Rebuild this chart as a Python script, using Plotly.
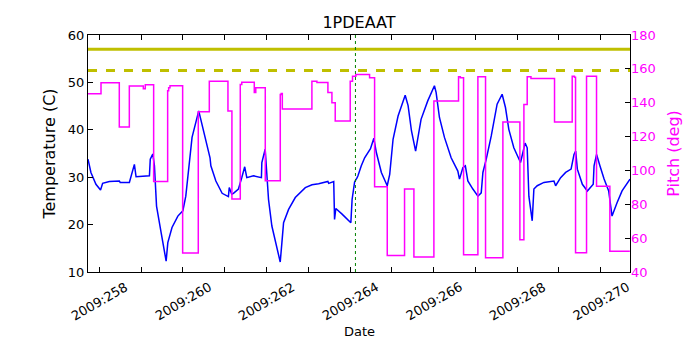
import plotly.graph_objects as go

# Temperature 1PDEAAT (day of year 2009, deg C)
temp_days = [257.73, 257.80, 257.92, 258.03, 258.08, 258.24, 258.48, 258.50, 258.72, 258.84,
             258.88, 259.20, 259.22, 259.28, 259.32, 259.37, 259.48, 259.60, 259.64, 259.74,
             259.88, 260.00, 260.07, 260.22, 260.38, 260.43, 260.54, 260.65, 260.67, 260.79,
             260.94, 261.09, 261.11, 261.17, 261.21, 261.33, 261.41, 261.48, 261.53, 261.69,
             261.88, 261.89, 261.97, 262.01, 262.05, 262.13, 262.25, 262.33, 262.37, 262.41,
             262.53, 262.69, 262.93, 263.09, 263.25, 263.47, 263.49, 263.61, 263.63, 263.66,
             263.81, 263.99, 264.02, 264.05, 264.11, 264.17, 264.19, 264.27, 264.35, 264.49,
             264.57, 264.63, 264.75, 264.89, 264.95, 265.03, 265.15, 265.32, 265.39, 265.47,
             265.57, 265.70, 265.86, 266.02, 266.06, 266.14, 266.26, 266.42, 266.58, 266.62,
             266.70, 266.76, 266.82, 266.94, 267.06, 267.14, 267.18, 267.26, 267.38, 267.52,
             267.64, 267.72, 267.80, 267.92, 268.08, 268.19, 268.24, 268.28, 268.36, 268.40,
             268.48, 268.64, 268.88, 268.92, 269.04, 269.16, 269.29, 269.36, 269.40, 269.44,
             269.56, 269.68, 269.82, 269.84, 269.90, 269.98, 270.08, 270.19, 270.27, 270.39,
             270.51, 270.70]
temp_vals = [33.8, 31.0, 28.5, 27.3, 28.7, 29.1, 29.2, 28.9, 28.9, 32.7,
             30.1, 30.3, 33.8, 34.9, 32.4, 23.9, 18.3, 12.3, 16.2, 19.4,
             21.8, 22.9, 26.0, 38.4, 44.0, 42.2, 37.7, 34.1, 32.4, 29.2,
             26.6, 25.9, 27.8, 26.4, 26.6, 27.5, 29.9, 32.2, 29.9, 30.3,
             29.9, 33.1, 35.9, 31.0, 25.3, 19.7, 14.8, 12.1, 16.2, 20.4,
             23.2, 25.7, 27.8, 28.4, 28.6, 29.1, 28.7, 29.1, 21.1, 23.4,
             22.2, 20.8, 20.4, 25.3, 29.0, 29.9, 30.3, 32.4, 34.1, 36.0,
             38.2, 35.2, 31.0, 28.2, 30.6, 38.0, 42.9, 47.3, 45.1, 39.8,
             35.5, 42.2, 46.1, 49.3, 47.9, 42.6, 38.4, 34.1, 31.3, 29.6,
             32.0, 32.4, 29.2, 27.5, 26.0, 26.7, 31.0, 33.8, 38.7, 45.4,
             47.5, 44.7, 40.1, 36.2, 33.1, 37.2, 36.2, 26.0, 20.8, 27.5,
             28.2, 28.9, 29.2, 28.2, 29.9, 31.0, 31.7, 34.8, 35.5, 31.7,
             28.5, 27.1, 28.5, 32.4, 34.8, 32.4, 29.6, 27.1, 21.8, 24.6,
             27.1, 29.6]

# Pitch (deg), step changes
pitch_days = [257.730, 258.041, 258.479, 258.719, 259.054, 259.101, 259.301, 259.636, 259.660, 259.692,
              259.995, 260.369, 260.633, 261.079, 261.174, 261.374, 261.410, 261.709, 261.745, 261.972,
              262.331, 262.354, 262.380, 263.088, 263.208, 263.471, 263.567, 263.646, 264.005, 264.060,
              264.140, 264.468, 264.588, 264.891, 265.305, 265.529, 266.007, 266.597, 266.640, 266.717,
              267.060, 267.243, 267.658, 268.065, 268.161, 268.240, 268.330, 268.894, 269.317, 269.370,
              269.397, 269.660, 269.899, 270.218, 270.696]
pitch_vals = [145.3, 151.8, 125.7, 149.8, 148.2, 150.6, 93.5, 147.0, 148.8, 150.0,
              51.2, 134.7, 152.7, 135.1, 83.1, 150.8, 152.1, 146.0, 148.8, 93.9,
              144.9, 145.5, 136.3, 152.7, 152.0, 146.0, 140.0, 129.2, 152.7, 155.7,
              156.7, 154.7, 90.4, 49.8, 89.0, 48.8, 141.0, 155.3, 154.7, 50.2,
              155.3, 48.4, 128.6, 59.0, 139.0, 155.3, 154.3, 128.6, 155.7, 155.0,
              51.4, 155.7, 90.6, 52.2, 52.2]

yellow_limit = 57.0
planning_limit = 52.5
now_day = 264.13

tick_days = list(range(258, 271))
label_days = [d for d in tick_days if d % 2 == 0]
label_text = ['2009:%d' % d for d in label_days]

font = dict(family='DejaVu Sans', size=13, color='black')

fig = go.Figure()
fig.add_trace(go.Scatter(x=temp_days, y=temp_vals, mode='lines',
                         line=dict(color='#0000ff', width=1.5), showlegend=False))
fig.add_hline(y=yellow_limit, line=dict(color='#bfbf00', width=3))
fig.add_hline(y=planning_limit, line=dict(color='#bfbf00', width=3, dash='dash'))
fig.add_vline(x=now_day, line=dict(color='#008000', width=1, dash='dot'))
fig.add_trace(go.Scatter(x=pitch_days, y=pitch_vals, mode='lines', yaxis='y2',
                         line=dict(color='#ff00ff', width=1.5, shape='hv'), showlegend=False))

# rotated date labels centred under their ticks, like matplotlib
for d, t in zip(label_days, label_text):
    fig.add_annotation(x=d, y=0, xref='x', yref='paper', text=t, showarrow=False,
                       textangle=-30, xanchor='center', yanchor='middle', yshift=-29,
                       font=dict(size=13))
fig.add_annotation(x=0.5, y=0, xref='paper', yref='paper', text='Date', showarrow=False,
                   xanchor='center', yanchor='middle', yshift=-59, font=dict(size=13))

fig.update_layout(
    width=692, height=342,
    margin=dict(l=80, r=70, t=27, b=78),
    plot_bgcolor='white', paper_bgcolor='white',
    font=font,
    title=dict(text='1PDEAAT', x=0.5, xref='paper', xanchor='center',
               y=1 - 14 / 342, yref='container', yanchor='middle', font=dict(size=16)),
    xaxis=dict(range=[257.73, 270.7], tickvals=tick_days, showticklabels=False,
               ticks='inside', ticklen=5, tickcolor='black', showgrid=False, zeroline=False,
               showline=True, linecolor='black', linewidth=1, mirror='ticks'),
    yaxis=dict(range=[10, 60], dtick=10, ticks='inside', ticklen=5, tickcolor='black',
               showgrid=False, zeroline=False, showline=True, linecolor='black', linewidth=1,
               mirror=True, title=dict(text='Temperature (C)', standoff=8)),
    yaxis2=dict(range=[40, 180], dtick=20, overlaying='y', side='right', ticks='inside',
                ticklen=5, tickcolor='black', showgrid=False, zeroline=False,
                tickfont=dict(color='#ff00ff'),
                title=dict(text='Pitch (deg)', standoff=12, font=dict(color='#ff00ff'))),
)

fig.write_html("out.html")
